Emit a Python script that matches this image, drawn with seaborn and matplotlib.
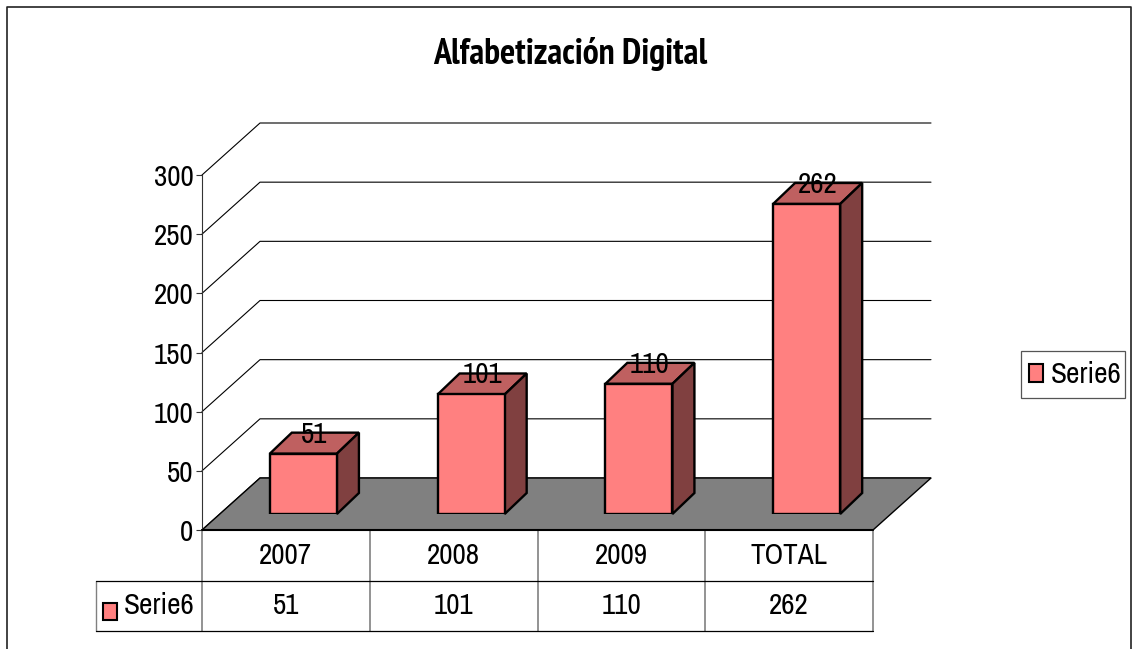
import matplotlib
matplotlib.use("Agg")
import matplotlib.pyplot as plt
import seaborn as sns
import pandas as pd
from matplotlib.patches import Patch, Polygon, Rectangle
from matplotlib.lines import Line2D

categories = ["2007", "2008", "2009", "TOTAL"]
values = [51, 101, 110, 262]
y_ticks = [0, 50, 100, 150, 200, 250, 300]
series_name = "Serie6"
title = "Alfabetización Digital"

W, H = 1133, 649
FRONT = "#FF8080"
TOP = "#BF6060"
SIDE = "#804040"
FLOOR = "#808080"
SIZE = 21

sns.set_theme(style="white")
plt.rcParams["font.family"] = ["Archivo Narrow", "Liberation Sans", "DejaVu Sans"]
plt.rcParams["text.color"] = "black"

fig = plt.figure(figsize=(W / 100, H / 100), dpi=100, facecolor="white")


def axes_at(left, top, right, bottom):
    return fig.add_axes([left / W, 1 - bottom / H, (right - left) / W, (bottom - top) / H])


# front plane of the fake 3d box, the bars sit a bit further in
ax = axes_at(202, 175, 873, 530)
bar_ax = axes_at(219.5, 159, 890.5, 514)
bar_ax.patch.set_alpha(0)
ax.set_xlim(-0.5, 3.5)
ax.set_ylim(0, 300)

px_x = 671 / 4
px_y = 355 / 300
wall_dx, wall_dy = 58 / px_x, 52 / px_y
bar_dx, bar_dy = 22 / px_x, 21 / px_y

for t in y_ticks:
    ax.plot([-0.5, -0.5 + wall_dx, 3.5 + wall_dx], [t, t + wall_dy, t + wall_dy],
            color="black", lw=0.8, clip_on=False, zorder=1)

ax.add_patch(Polygon([(-0.5, 0), (3.5, 0), (3.5 + wall_dx, wall_dy), (-0.5 + wall_dx, wall_dy)],
                     facecolor=FLOOR, edgecolor="black", lw=1.0, clip_on=False, zorder=2))
ax.plot([-0.5, 3.5], [0, 0], color="black", lw=1.5, clip_on=False, zorder=3)

ax.set_yticks(y_ticks)
ax.set_xticks([])
ax.tick_params(axis="y", left=True, length=4.3, width=0.8, color="#333333", pad=1.8, labelsize=SIZE, labelcolor="black")
sns.despine(ax=ax, right=True, top=True, bottom=True)
ax.spines["left"].set_color("#333333")
ax.spines["left"].set_linewidth(0.8)

df = pd.DataFrame({"year": categories, "count": values})
sns.barplot(data=df, x="year", y="count", color=FRONT, saturation=1, width=0.4,
            edgecolor="black", linewidth=1.7, ax=bar_ax, zorder=5)
bar_ax.set_xlim(-0.5, 3.5)
bar_ax.set_ylim(0, 300)
bar_ax.axis("off")

for bar, v in zip(bar_ax.patches, values):
    x0 = bar.get_x()
    x1 = x0 + bar.get_width()
    bar_ax.add_patch(Polygon([(x0, v), (x1, v), (x1 + bar_dx, v + bar_dy), (x0 + bar_dx, v + bar_dy)],
                             facecolor=TOP, edgecolor="black", lw=1.7, clip_on=False, zorder=4))
    bar_ax.add_patch(Polygon([(x1, 0), (x1, v), (x1 + bar_dx, v + bar_dy), (x1 + bar_dx, bar_dy)],
                             facecolor=SIDE, edgecolor="black", lw=1.7, clip_on=False, zorder=4))
    bar_ax.annotate(str(v), (x0 + bar.get_width() / 2 + bar_dx / 2, v + bar_dy), xytext=(0, -1),
                    textcoords="offset points", ha="center", va="center",
                    fontsize=SIZE, color="black", annotation_clip=False, zorder=6)

# data table under the axis
row_h = 50.5 / px_y
row1 = -row_h
row2 = -2 * row_h
label_left = -0.5 - 106 / px_x
for x in [-0.5, 0.5, 1.5, 2.5, 3.5]:
    ax.plot([x, x], [0, row2], color="#808080", lw=1.2, clip_on=False, zorder=1)
ax.plot([label_left, label_left], [row1, row2], color="#808080", lw=1.0, clip_on=False)
for y in [row1, row2]:
    ax.plot([label_left, 3.5], [y, y], color="black", lw=0.9, clip_on=False)
for i, (c, v) in enumerate(zip(categories, values)):
    ax.text(i, row1 / 2, c, ha="center", va="center", fontsize=SIZE)
    ax.text(i, (row1 + row2) / 2, str(v), ha="center", va="center", fontsize=SIZE)
ax.add_patch(Rectangle((label_left + 7 / px_x, row2 + 11 / px_y), 14 / px_x, 17 / px_y,
                       facecolor=FRONT, edgecolor="black", lw=1.5, clip_on=False))
ax.text(label_left + 28 / px_x, (row1 + row2) / 2, series_name, ha="left", va="center", fontsize=SIZE)

fig.text(570 / W, 1 - 54 / H, title, ha="center", va="center", fontsize=25.8, fontweight="bold",
         family=["PT Sans Narrow", "Liberation Sans", "DejaVu Sans"])

# legend box is drawn by hand, matplotlib ties its height to the padding
fig.add_artist(Rectangle((1021 / W, 1 - 398 / H), 104 / W, 47 / H, transform=fig.transFigure,
                         facecolor="white", edgecolor="#555555", lw=0.9))
leg = fig.legend(handles=[Patch(facecolor=FRONT, edgecolor="black", lw=1.5, label=series_name)],
                 loc="center", bbox_to_anchor=(1075 / W, 1 - 374.5 / H), fontsize=SIZE,
                 frameon=False, handlelength=0.48, handleheight=0.58, handletextpad=0.25,
                 borderpad=0, borderaxespad=0)

# outer chart border, open at the bottom
fig.add_artist(Line2D([7 / W, 7 / W, 1131 / W, 1131 / W], [0, 1 - 6.5 / H, 1 - 6.5 / H, 0],
                      color="#222222", lw=1.2))

fig.savefig("out.png", dpi=100)
